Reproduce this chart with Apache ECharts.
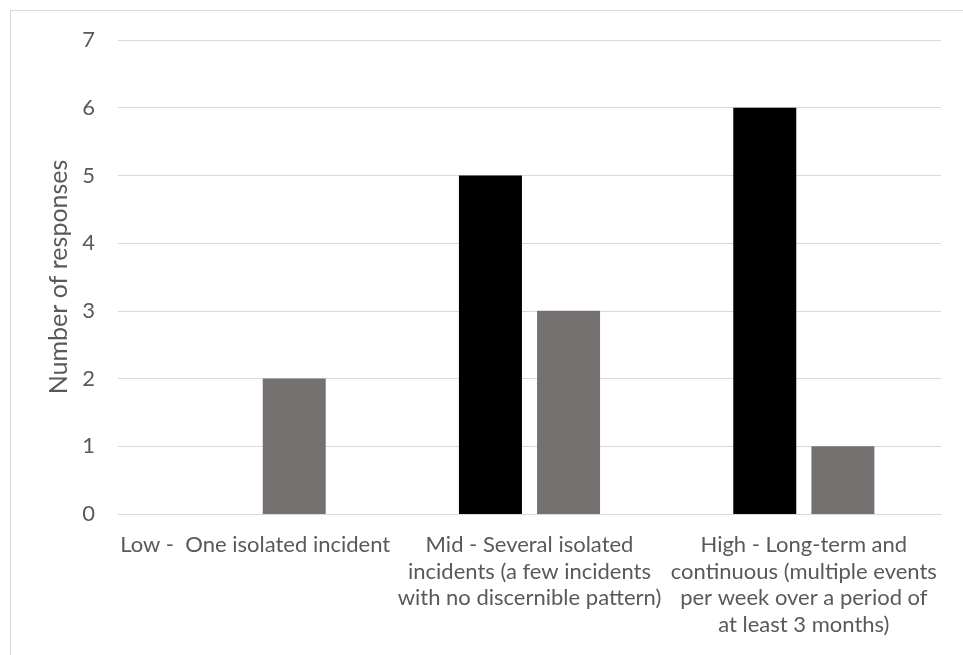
<!DOCTYPE html>
<html>
<head>
<meta charset="utf-8">
<script src="https://cdn.jsdelivr.net/npm/echarts@6/dist/echarts.min.js"></script>
<style>
  html, body { margin: 0; padding: 0; background: #fff; }
  #frame { position: absolute; left: 10px; top: 10px; width: 1000px; height: 700px; border: 1px solid #d9d9d9; box-sizing: border-box; }
  #chart { position: absolute; left: 0; top: 0; width: 963px; height: 655px; }
</style>
</head>
<body>
<div id="frame"></div>
<div id="chart"></div>
<script>
// Severity categories (label lines broken as displayed)
const categories = [
  'Low -  One isolated incident',
  'Mid - Several isolated\nincidents (a few incidents\nwith no discernible pattern)',
  'High - Long-term and\ncontinuous (multiple events\nper week over a period of\nat least 3 months)'
];
// Two response groups
const seriesA = [0, 5, 6];
const seriesB = [2, 3, 1];
const yTicks = { min: 0, max: 7, interval: 1 };

const chart = echarts.init(document.getElementById('chart'), null, { renderer: 'canvas' });
chart.setOption({
  animation: false,
  textStyle: { fontFamily: 'Lato, sans-serif' },
  grid: { left: 118, right: 22, top: 40, bottom: 141, containLabel: false },
  xAxis: {
    type: 'category',
    data: categories,
    axisLine: { show: true, lineStyle: { color: '#d9d9d9', width: 1 } },
    axisTick: { show: false },
    axisLabel: { color: '#595959', fontSize: 22, lineHeight: 26.5, margin: 18, interval: 0, align: 'center' }
  },
  yAxis: {
    type: 'value',
    min: yTicks.min, max: yTicks.max, interval: yTicks.interval,
    name: 'Number of responses',
    nameLocation: 'middle',
    nameGap: 43,
    nameRotate: 90,
    nameTextStyle: { color: '#595959', fontSize: 25 },
    axisLine: { show: false },
    axisTick: { show: false },
    axisLabel: { color: '#595959', fontSize: 22, margin: 23 },
    splitLine: { lineStyle: { color: '#d9d9d9', width: 1 } }
  },
  series: [
    { type: 'bar', data: seriesA, itemStyle: { color: '#000000' }, barWidth: 63, barGap: '24%' },
    { type: 'bar', data: seriesB, itemStyle: { color: '#767171' }, barWidth: 63 }
  ]
});
</script>
</body>
</html>
